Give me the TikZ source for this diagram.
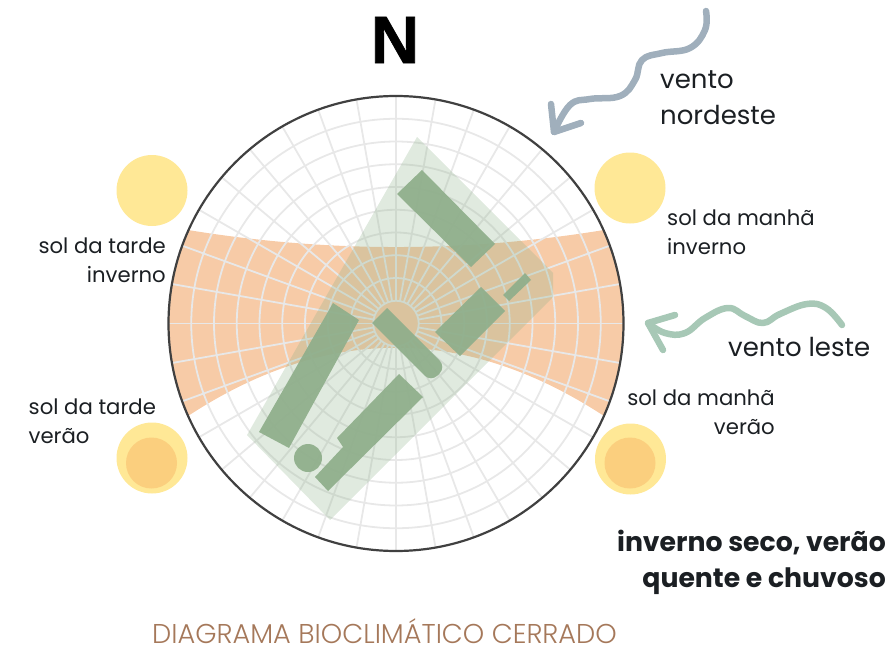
\documentclass[tikz,border=0pt]{standalone}
\usepackage{fontspec}
\setmainfont{Poppins}
\newfontfamily\northfont[FakeBold=1]{Liberation Sans Bold}
\newfontfamily\titlefont{Poppins Light}
\usetikzlibrary{positioning, calc}

\definecolor{sunyellow}{HTML}{FFE896}
\definecolor{suncore}{HTML}{FBCF7E}
\definecolor{bandorange}{HTML}{F7CBA7}
\definecolor{sitegreen}{RGB}{140,177,137}
\definecolor{blockgreen}{HTML}{8FAE8B}
\definecolor{gridgrey}{HTML}{E8E8E8}
\definecolor{windgrey}{HTML}{A0AFBC}
\definecolor{windgreen}{HTML}{A7C8B6}
\definecolor{textdark}{HTML}{1B1F23}
\definecolor{titlebrown}{HTML}{A5785A}

\tikzset{
    sun/.style={circle, fill=sunyellow, minimum size=71pt, inner sep=0pt},
    core/.style={circle, fill=suncore, minimum size=51pt, inner sep=0pt},
    sunlabel/.style={inner sep=0pt, text=textdark, font=\fontsize{21.2}{29}\selectfont},
    windlabel/.style={inner sep=0pt, text=textdark, font=\fontsize{26}{36}\selectfont},
    gridline/.style={draw=gridgrey, line width=1.8pt},
    site/.style={fill=sitegreen, fill opacity=.27},
    block/.style={fill=blockgreen, fill opacity=.93},
    wind/.style={line width=6.5pt, line cap=round, line join=round}
}

\begin{document}
\begin{tikzpicture}[x=1pt, y=-1pt]
    \useasboundingbox (0,0) rectangle (891,650);
    \coordinate (c) at (396,323.5);

    % sun path band
    \begin{scope}
        \clip (c) circle (227.5);
        \fill[bandorange] (188,230) .. controls (327,252.7) and (465,252.7) .. (604,230)
            -- (640,230) -- (640,416) -- (604,416)
            .. controls (465,325) and (327,325) .. (188,416)
            -- (150,416) -- (150,230) -- cycle;
    \end{scope}

    % grid
    \foreach \r in {1,...,9}
        \draw[gridline] (c) circle ({22.75*\r});
    \foreach \a in {0,10,...,350}
        \draw[gridline] ($(c)+(\a:22.75)$) -- ($(c)+(\a:227.5)$);
    \draw[line width=2.2pt, draw=black!75] (c) circle (227.5);

    % site and buildings
    \fill[site] (417,137) -- (553,273) -- (553,297) -- (330,520) -- (247,435) -- cycle;
    \fill[block] (422,170) -- (495,244) -- (471,267) -- (397,194) -- cycle;
    \fill[block] (525,273) -- (531,280) -- (509,301) -- (503,295) -- cycle;
    \fill[block] (481,287) -- (505,311) -- (460,356) -- (435,332) -- cycle;
    \fill[block] (387,308) [rounded corners=9pt] -- (446,367) -- (431,382) [sharp corners] -- (372,323) -- cycle;
    \fill[block] (333,303) -- (359,320) -- (289,448) -- (259,432) -- cycle;
    \fill[block] (399,374) -- (423,397) -- (328,491) -- (315,477) -- (343,447) -- (337,438) -- cycle;
    \fill[block] (308,458) circle (14);

    % suns
    \node[sun] (sunPMwinter) at (152,190.5) {};
    \node[sun] (sunAMwinter) at (630,188) {};
    \node[sun] (sunPMsummer) at (152,458) {};
    \node[sun] (sunAMsummer) at (630.5,459) {};
    \node[core] (corePM) at (151.5,463) {};
    \node[core] (coreAM) at (630,463) {};

    \node[sunlabel, align=right, anchor=east] (lblPMwinter) at (166,260) {sol da tarde\\inverno};
    \node[sunlabel, align=left, anchor=west] (lblPMsummer) at (28.5,421) {sol da tarde\\verão};
    \node[sunlabel, align=left, anchor=west] (lblAMwinter) at (667,232) {sol da manhã\\inverno};
    \node[sunlabel, align=right, anchor=east] (lblAMsummer) at (775,412) {sol da manhã\\verão};

    % winds
    \coordinate (neStart) at (706,11);
    \coordinate (neTip) at (554,132);
    \coordinate (neBarbA) at (551,104);
    \coordinate (neBarbB) at (581,123);
    \draw[wind, windgrey] plot[smooth, tension=.7] coordinates {(neStart) (705,30) (690,48) (662,53)
        (642,60) (635,80) (620,96) (590,99) (570,105) (neTip)};
    \draw[wind, windgrey] (neBarbA) -- (neTip) -- (neBarbB);

    \coordinate (eStart) at (842,325);
    \coordinate (eTip) at (648,323);
    \coordinate (eBarbA) at (675,315);
    \coordinate (eBarbB) at (663,350);
    \draw[wind, windgreen] plot[smooth, tension=.7] coordinates {(eStart) (826,308) (807,304) (780,314)
        (763,323) (745,316) (728,308) (705,318) (685,333) (665,333) (eTip)};
    \draw[wind, windgreen] (eBarbA) -- (eTip) -- (eBarbB);

    \node[windlabel, align=left, anchor=west] (lblNE) at (660,98) {vento\\nordeste};
    \node[windlabel, anchor=west] (lblE) at (728,347) {vento leste};

    % titles
    \node[inner sep=0pt, font=\northfont\fontsize{67}{67}\selectfont] (north) at (395,40) {N};
    \node[inner sep=0pt, text=textdark, align=right, anchor=east,
        font=\bfseries\fontsize{26.7}{36}\selectfont] (climate) at (886,562) {inverno seco, verão\\quente e chuvoso};
    \node[inner sep=0pt, text=titlebrown, font=\titlefont\fontsize{27.2}{27.2}\selectfont] (title) at (384.5,631) {DIAGRAMA BIOCLIMÁTICO CERRADO};
\end{tikzpicture}
\end{document}
